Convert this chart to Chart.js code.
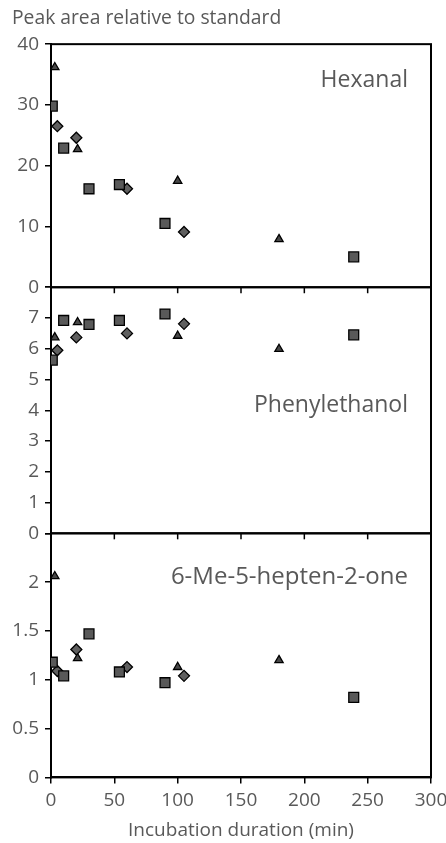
<!DOCTYPE html>
<html>
<head>
<meta charset="utf-8">
<script src="https://cdn.jsdelivr.net/npm/chart.js@4.4.1/dist/chart.umd.min.js"></script>
<style>
  html, body { margin: 0; padding: 0; background: #fff; }
  #wrap { position: relative; width: 446px; height: 843px; }
</style>
</head>
<body>
<div id="wrap"><canvas id="chart"></canvas></div>
<script>
// sampling times (min) of the three replicate series
const squareTimes = [1, 10, 30, 54, 90, 239];
const diamondTimes = [5, 20, 60, 105];
const triangleTimes = [3, 21, 100, 180];

// peak area relative to standard, per compound and series
const hexanalSquare = [29.8, 22.9, 16.2, 16.9, 10.5, 5.0];
const hexanalDiamond = [26.5, 24.6, 16.2, 9.1];
const hexanalTriangle = [36.2, 22.7, 17.5, 7.9];

const phenylSquare = [5.63, 6.92, 6.79, 6.92, 7.13, 6.45];
const phenylDiamond = [5.95, 6.37, 6.5, 6.81];
const phenylTriangle = [6.37, 6.86, 6.42, 5.99];

const heptenoneSquare = [1.18, 1.04, 1.47, 1.08, 0.97, 0.82];
const heptenoneDiamond = [1.09, 1.31, 1.13, 1.04];
const heptenoneTriangle = [2.06, 1.22, 1.13, 1.20];

const xTicks = [0, 50, 100, 150, 200, 250, 300];
const compoundNames = ['Hexanal', 'Phenylethanol', '6-Me-5-hepten-2-one'];

const FONT = "'Open Sans', sans-serif";
const GREY = '#595959';

const pts = (times, vals) => times.map((t, i) => ({ x: t, y: vals[i] }));

function series(times, vals, axis, style) {
  const shape = {
    square: { pointStyle: 'rect', pointRadius: 7, backgroundColor: '#595959' },
    diamond: { pointStyle: 'rectRot', pointRadius: 5.5, backgroundColor: '#5f5f5f' },
    triangle: { pointStyle: 'triangle', pointRadius: 4.8, backgroundColor: '#474747' }
  }[style];
  return Object.assign({
    data: pts(times, vals),
    yAxisID: axis,
    showLine: false,
    borderColor: '#000',
    borderWidth: 1.3,
    pointHoverRadius: shape.pointRadius
  }, shape);
}

const datasets = [
  series(squareTimes, hexanalSquare, 'yA', 'square'),
  series(diamondTimes, hexanalDiamond, 'yA', 'diamond'),
  series(triangleTimes, hexanalTriangle, 'yA', 'triangle'),
  series(squareTimes, phenylSquare, 'yB', 'square'),
  series(diamondTimes, phenylDiamond, 'yB', 'diamond'),
  series(triangleTimes, phenylTriangle, 'yB', 'triangle'),
  series(squareTimes, heptenoneSquare, 'yC', 'square'),
  series(diamondTimes, heptenoneDiamond, 'yC', 'diamond'),
  series(triangleTimes, heptenoneTriangle, 'yC', 'triangle')
];

function yAxis(max, step, weight) {
  return {
    type: 'linear',
    position: 'left',
    stack: 'panels',
    stackWeight: weight,
    min: 0,
    max: max,
    ticks: {
      stepSize: step,
      autoSkip: false,
      color: GREY,
      padding: 6,
      font: { family: FONT, size: 19 },
      // top value of the lower panels is hidden, as in the original
      callback: (v) => (v === max && max !== 40 ? '' : String(v))
    },
    grid: { drawOnChartArea: false, drawTicks: true, tickLength: 6, color: '#000', lineWidth: 1.5 },
    border: { display: true, color: '#000', width: 2 },
    afterFit: (s) => { s.width = 39; }
  };
}

// frame every panel and draw the x tick marks under the upper two
const panelFrame = {
  id: 'panelFrame',
  beforeDatasetsDraw(chart) {
    const { ctx, chartArea, scales } = chart;
    const x = scales.x;
    ctx.save();
    ctx.strokeStyle = '#000';
    ['yA', 'yB', 'yC'].forEach((id, k) => {
      const s = scales[id];
      ctx.lineWidth = 2;
      ctx.strokeRect(chartArea.left, s.top, chartArea.right - chartArea.left, s.bottom - s.top);
      if (k < 2) {
        ctx.lineWidth = 1.5;
        xTicks.forEach((v) => {
          const px = x.getPixelForValue(v);
          ctx.beginPath();
          ctx.moveTo(px, s.bottom);
          ctx.lineTo(px, s.bottom + 6);
          ctx.stroke();
        });
      }
    });
    ctx.restore();
  },
  afterDatasetsDraw(chart) {
    const { ctx, scales } = chart;
    const offsets = [36, 118, 44];
    const sizes = [23, 23, 24];
    ctx.save();
    ctx.fillStyle = GREY;
    ctx.textAlign = 'right';
    ctx.textBaseline = 'middle';
    ['yA', 'yB', 'yC'].forEach((id, k) => {
      ctx.font = sizes[k] + 'px ' + FONT;
      ctx.fillText(compoundNames[k], 408, scales[id].top + offsets[k]);
    });
    ctx.restore();
  }
};

new Chart(document.getElementById('chart'), {
  type: 'scatter',
  data: { datasets },
  options: {
    responsive: true,
    maintainAspectRatio: false,
    animation: false,
    layout: { padding: { left: 12, right: 15, top: 0, bottom: 1 } },
    plugins: {
      legend: { display: false },
      tooltip: { enabled: false },
      title: {
        display: true,
        text: 'Peak area relative to standard',
        align: 'start',
        color: GREY,
        font: { family: FONT, size: 19.3, weight: 'normal' },
        padding: { top: 7, bottom: 14 }
      }
    },
    scales: {
      x: {
        type: 'linear',
        min: 0,
        max: 300,
        ticks: { stepSize: 50, color: GREY, padding: 6, maxRotation: 0, font: { family: FONT, size: 19 } },
        grid: { drawOnChartArea: false, drawTicks: true, tickLength: 6, color: '#000', lineWidth: 1.5 },
        border: { display: true, color: '#000', width: 2 },
        title: {
          display: true,
          text: 'Incubation duration (min)',
          color: GREY,
          font: { family: FONT, size: 19 },
          padding: { top: 1, bottom: 0 }
        },
        afterFit: (s) => { s.paddingRight = 0; }
      },
      yC: yAxis(2.5, 0.5, 244),
      yB: yAxis(8, 1, 246),
      yA: yAxis(40, 10, 243)
    }
  },
  plugins: [panelFrame]
});
</script>
</body>
</html>
